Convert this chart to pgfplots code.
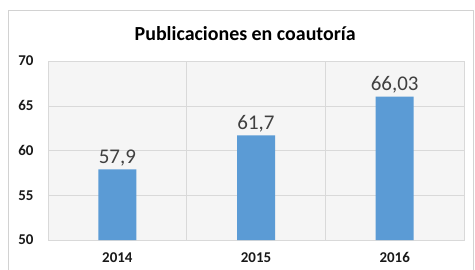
\documentclass[border=0pt]{standalone}
\usepackage{pgfplots}
\pgfplotsset{compat=1.18}
\usepackage{fontspec}
\setmainfont{Carlito}
\definecolor{barblue}{HTML}{5B9BD5}
\begin{document}
\begin{tikzpicture}[x=1bp,y=1bp]
\useasboundingbox (0,0) rectangle (475,269);
\draw[gray!35] (8,-2) rectangle (473,259);
\begin{axis}[at={(48bp,29bp)}, anchor=south west, width=416bp, height=179bp, scale only axis,
 xmin=-0.5, xmax=2.5, ymin=50, ymax=70,
 ytick={50,55,...,70}, xtick={0,1,2}, xticklabels={2014,2015,2016},
 minor xtick={0.5,1.5}, xminorgrids, ymajorgrids,
 grid style={gray!30}, minor grid style={gray!30},
 axis line style={gray!30}, major tick length=0pt, minor tick length=0pt,
 axis background/.style={fill=gray!8},
 ticklabel style={font=\fontsize{15}{15}\selectfont\bfseries, text=black!90},
 /pgf/number format/assume math mode=true,
 yticklabel style={xshift=-11bp},
 xticklabel style={yshift=-9bp},
 title={\textbf{Publicaciones en coautoría}},
 title style={font=\fontsize{20}{20}\selectfont, anchor=center, at={(0.474,1)}, yshift=21bp, text=black},
 nodes near coords, point meta=explicit symbolic,
 nodes near coords style={font=\fontsize{21}{21}\selectfont, text=black!75},
 ]
\addplot[ybar, bar width=38bp, fill=barblue, draw=none] coordinates {(0,57.9)[57,9] (1,61.7)[61,7] (2,66.03)[66,03]};
\end{axis}
\end{tikzpicture}
\end{document}
